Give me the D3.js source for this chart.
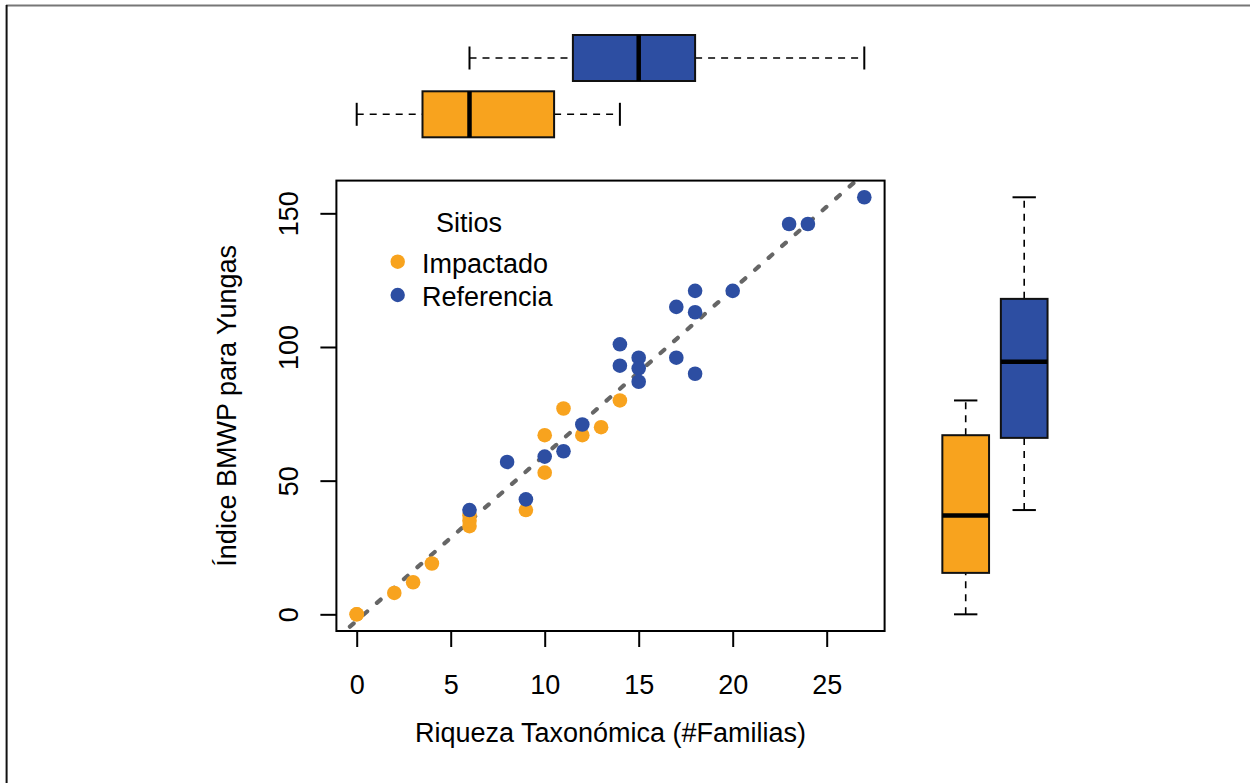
<!DOCTYPE html>
<html>
<head>
<meta charset="utf-8">
<script src="https://d3js.org/d3.v7.min.js"></script>
<style>
  body { margin: 0; background: #fff; }
  text { font-family: "Liberation Sans", Arial, sans-serif; fill: #000; }
</style>
</head>
<body>
<div id="chart"></div>
<script>
// canvas
var w = 1250, h = 783;
var fontSize = "27px";

// data (two hidden duplicates in Impactado)
var groups = ["Impactado", "Referencia"];
var colors = ["#F8A31E", "#2D4EA2"];
var impX = [0, 0, 2, 3, 4, 6, 6, 6, 9, 10, 10, 11, 12, 13, 14];
var impY = [0, 0, 8, 12, 19, 33, 35, 37, 39, 53, 67, 77, 67, 70, 80];
var refX = [6, 8, 9, 10, 11, 12, 14, 14, 15, 15, 15, 17, 17, 18, 18, 18, 20, 23, 24, 27];
var refY = [39, 57, 43, 59, 61, 71, 93, 101, 96, 92, 87, 96, 115, 90, 113, 121, 121, 146, 146, 156];
var xTicks = [0, 5, 10, 15, 20, 25];
var yTicks = [0, 50, 100, 150];
var xTitle = "Riqueza Taxonómica (#Familias)";
var yTitle = "Índice BMWP para Yungas";
var legendTitle = "Sitios";

// plot region of the scatter
var plot = {left: 336.4, right: 884.6, top: 180.6, bottom: 631};

var allX = impX.concat(refX), allY = impY.concat(refY);
function padded(ext) { var d = (ext[1] - ext[0]) * 0.04; return [ext[0] - d, ext[1] + d]; }

var xScale = d3.scaleLinear().domain(padded(d3.extent(allX))).range([plot.left, plot.right]);
var yScale = d3.scaleLinear().domain(padded(d3.extent(allY))).range([plot.bottom, plot.top]);

var svg = d3.select("#chart").append("svg")
    .attr("width", w).attr("height", h);

// outer frame (only top and left show)
svg.append("line").attr("x1", 6).attr("x2", w).attr("y1", 5.6).attr("y2", 5.6)
    .attr("stroke", "#777").attr("stroke-width", 2);
svg.append("line").attr("x1", 6.6).attr("x2", 6.6).attr("y1", 5).attr("y2", h)
    .attr("stroke", "#111").attr("stroke-width", 2);

// Tukey five number summary, like R fivenum
function fivenum(v) {
    var s = v.slice().sort(d3.ascending), n = s.length;
    var n4 = Math.floor((n + 3) / 2) / 2;
    var d = [1, n4, (n + 1) / 2, n + 1 - n4, n];
    return d.map(function(k) { return 0.5 * (s[Math.floor(k) - 1] + s[Math.ceil(k) - 1]); });
}

// least squares line
function lm(x, y) {
    var mx = d3.mean(x), my = d3.mean(y), sxy = 0, sxx = 0;
    for (var i = 0; i < x.length; i++) { sxy += (x[i] - mx) * (y[i] - my); sxx += (x[i] - mx) * (x[i] - mx); }
    var b = sxy / sxx;
    return {a: my - b * mx, b: b};
}

// axes
var xAxis = d3.axisBottom(xScale).tickValues(xTicks).tickSize(16).tickFormat(d3.format("d"));
var yAxis = d3.axisLeft(yScale).tickValues(yTicks).tickSize(16).tickFormat(d3.format("d"));

var gx = svg.append("g").attr("transform", "translate(0," + plot.bottom + ")").call(xAxis);
gx.select(".domain").remove();
gx.selectAll("line").attr("stroke", "#000").attr("stroke-width", 2);
gx.selectAll("text").attr("y", 62.5).attr("dy", null).style("font-size", fontSize);

var gy = svg.append("g").attr("transform", "translate(" + plot.left + ",0)").call(yAxis);
gy.select(".domain").remove();
gy.selectAll("line").attr("stroke", "#000").attr("stroke-width", 2);
gy.selectAll("text")
    .attr("x", 0).attr("y", 0).attr("dy", null)
    .attr("text-anchor", "middle")
    .attr("transform", "translate(" + (297.5 - plot.left) + ",0) rotate(-90)")
    .style("font-size", fontSize);
svg.selectAll(".tick text").attr("fill", "#000");

// axis titles
svg.append("text").attr("x", (plot.left + plot.right) / 2).attr("y", 742)
    .attr("text-anchor", "middle").style("font-size", fontSize).text(xTitle);
svg.append("text")
    .attr("transform", "translate(236," + (plot.top + plot.bottom) / 2 + ") rotate(-90)")
    .attr("text-anchor", "middle").style("font-size", fontSize).text(yTitle);

// regression line, clipped to the plot box
svg.append("clipPath").attr("id", "clip").append("rect")
    .attr("x", plot.left).attr("y", plot.top)
    .attr("width", plot.right - plot.left).attr("height", plot.bottom - plot.top);
var fit = lm(allX, allY);
var xd = xScale.domain();
svg.append("line")
    .attr("clip-path", "url(#clip)")
    .attr("x1", xScale(xd[0])).attr("y1", yScale(fit.a + fit.b * xd[0]))
    .attr("x2", xScale(xd[1])).attr("y2", yScale(fit.a + fit.b * xd[1]))
    .attr("stroke", "#666").attr("stroke-width", 4.2)
    .attr("stroke-dasharray", "5,13").attr("stroke-linecap", "round");

// points
var series = [
    {name: groups[0], color: colors[0], x: impX, y: impY},
    {name: groups[1], color: colors[1], x: refX, y: refY}
];
series.forEach(function(s) {
    svg.append("g").selectAll("circle")
        .data(d3.range(s.x.length))
        .enter().append("circle")
        .attr("cx", function(i) { return xScale(s.x[i]); })
        .attr("cy", function(i) { return yScale(s.y[i]); })
        .attr("r", 7.3)
        .attr("fill", s.color);
});

// plot box
svg.append("rect")
    .attr("x", plot.left).attr("y", plot.top)
    .attr("width", plot.right - plot.left).attr("height", plot.bottom - plot.top)
    .attr("fill", "none").attr("stroke", "#000").attr("stroke-width", 2);

// legend
svg.append("text").attr("x", 469).attr("y", 231.7).attr("text-anchor", "middle")
    .style("font-size", fontSize).text(legendTitle);
var legendY = [261.7, 295];
series.forEach(function(s, i) {
    svg.append("circle").attr("cx", 397.7).attr("cy", legendY[i]).attr("r", 7.2).attr("fill", s.color);
    svg.append("text").attr("x", 422).attr("y", legendY[i] + 11)
        .style("font-size", fontSize).text(s.name);
});

// horizontal boxplots on top (x values), same x scale as the scatter
var topCenter = [114.3, 58], boxH = 46;
series.forEach(function(s, i) {
    var f = fivenum(s.x), cy = topCenter[i], g = svg.append("g");
    g.append("line").attr("x1", xScale(f[0])).attr("x2", xScale(f[1])).attr("y1", cy).attr("y2", cy);
    g.append("line").attr("x1", xScale(f[3])).attr("x2", xScale(f[4])).attr("y1", cy).attr("y2", cy);
    g.selectAll("line").attr("stroke", "#000").attr("stroke-width", 1.6).attr("stroke-dasharray", "7,6");
    [f[0], f[4]].forEach(function(v) {
        g.append("line").attr("x1", xScale(v)).attr("x2", xScale(v))
            .attr("y1", cy - boxH / 4).attr("y2", cy + boxH / 4)
            .attr("stroke", "#000").attr("stroke-width", 2);
    });
    g.append("rect").attr("x", xScale(f[1])).attr("y", cy - boxH / 2)
        .attr("width", xScale(f[3]) - xScale(f[1])).attr("height", boxH)
        .attr("fill", s.color).attr("stroke", "#111").attr("stroke-width", 2);
    g.append("line").attr("x1", xScale(f[2])).attr("x2", xScale(f[2]))
        .attr("y1", cy - boxH / 2).attr("y2", cy + boxH / 2)
        .attr("stroke", "#000").attr("stroke-width", 4.5);
});

// vertical boxplots on the right (y values)
var rightCenter = [965.7, 1024.2], boxW = 46.7;
series.forEach(function(s, i) {
    var f = fivenum(s.y), cx = rightCenter[i], g = svg.append("g");
    g.append("line").attr("y1", yScale(f[0])).attr("y2", yScale(f[1])).attr("x1", cx).attr("x2", cx);
    g.append("line").attr("y1", yScale(f[3])).attr("y2", yScale(f[4])).attr("x1", cx).attr("x2", cx);
    g.selectAll("line").attr("stroke", "#000").attr("stroke-width", 1.6).attr("stroke-dasharray", "7,6");
    [f[0], f[4]].forEach(function(v) {
        g.append("line").attr("y1", yScale(v)).attr("y2", yScale(v))
            .attr("x1", cx - boxW / 4).attr("x2", cx + boxW / 4)
            .attr("stroke", "#000").attr("stroke-width", 2);
    });
    g.append("rect").attr("x", cx - boxW / 2).attr("y", yScale(f[3]))
        .attr("width", boxW).attr("height", yScale(f[1]) - yScale(f[3]))
        .attr("fill", s.color).attr("stroke", "#111").attr("stroke-width", 2);
    g.append("line").attr("y1", yScale(f[2])).attr("y2", yScale(f[2]))
        .attr("x1", cx - boxW / 2).attr("x2", cx + boxW / 2)
        .attr("stroke", "#000").attr("stroke-width", 4.5);
});
</script>
</body>
</html>
